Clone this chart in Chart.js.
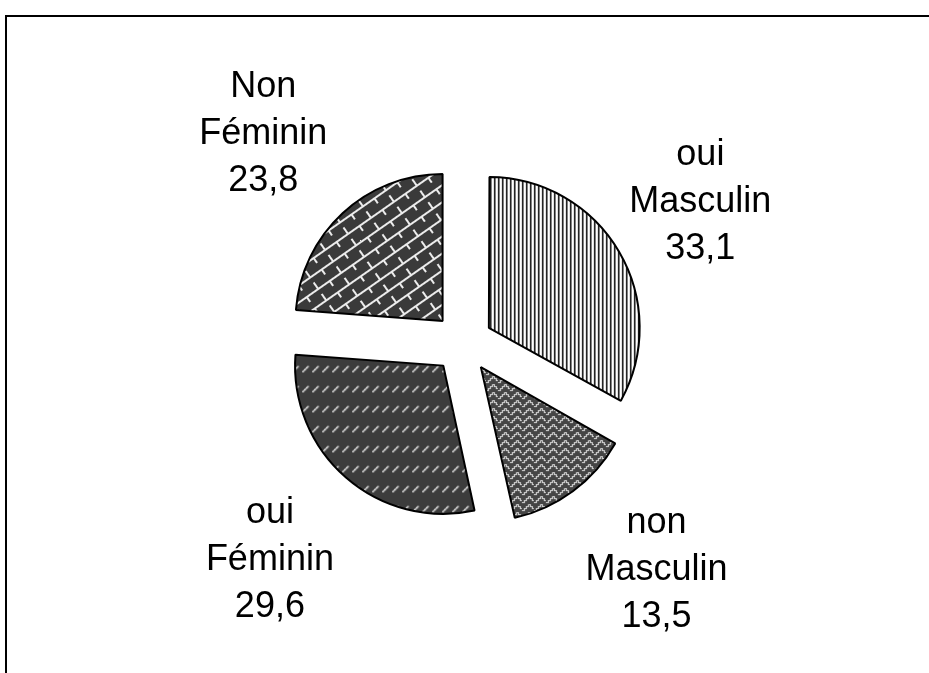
<!DOCTYPE html>
<html>
<head>
<meta charset="utf-8">
<script src="https://cdn.jsdelivr.net/npm/chart.js@4/dist/chart.umd.min.js"></script>
<style>
  html, body { margin: 0; padding: 0; background: #fff; }
  canvas { display: block; }
</style>
</head>
<body>
<canvas id="c" width="929" height="673"></canvas>
<script>
// ---- data ----
const reponses = ['oui', 'non', 'oui', 'Non'];
const sexes = ['Masculin', 'Masculin', 'Féminin', 'Féminin'];
const valeurs = [33.1, 13.5, 29.6, 23.8];

// ---- label nudges (style only, pixels) ----
const labelNudges = [[-11, 5], [22, -4], [-4, 0], [-4, 2]];

// ---- patterns ----
function makeTile(w, h, draw) {
  const c = document.createElement('canvas');
  c.width = w; c.height = h;
  draw(c.getContext('2d'));
  return c;
}
const pctx = document.createElement('canvas').getContext('2d');

const stripes = pctx.createPattern(makeTile(4, 4, g => {
  g.fillStyle = '#fff'; g.fillRect(0, 0, 4, 4);
  g.fillStyle = '#1a1a1a'; g.fillRect(0, 0, 1, 4);
  g.fillStyle = '#707070'; g.fillRect(1, 0, 1, 4);
}), 'repeat');

const fret = pctx.createPattern(makeTile(12, 8, g => {
  g.fillStyle = '#454545'; g.fillRect(0, 0, 12, 8);
  g.strokeStyle = '#d4d4d4'; g.lineWidth = 1.2;
  g.beginPath();
  g.moveTo(0, 6.5); g.lineTo(2.5, 6.5); g.lineTo(2.5, 4.5); g.lineTo(4.5, 4.5);
  g.lineTo(4.5, 2.5); g.lineTo(6.5, 2.5); g.lineTo(6.5, 0.5);
  g.moveTo(6.5, 0.5); g.lineTo(8.5, 0.5); g.lineTo(8.5, 2.5); g.lineTo(10.5, 2.5);
  g.lineTo(10.5, 4.5); g.lineTo(12, 4.5);
  g.stroke();
}), 'repeat');

const dashes = pctx.createPattern(makeTile(10, 20, g => {
  g.fillStyle = '#3c3c3c'; g.fillRect(0, 0, 10, 20);
  for (let i = 0; i < 6; i++) {
    g.fillStyle = i % 2 ? '#bdbdbd' : '#f4f4f4';
    g.fillRect(2 + i, 8 - i, 1.6, 1.6);
  }
}), 'repeat');

const bricks = pctx.createPattern(makeTile(28, 14, g => {
  g.fillStyle = '#3a3a3a'; g.fillRect(0, 0, 28, 14);
  g.fillStyle = '#ececec';
  g.fillRect(0, 0, 28, 2);
  g.fillRect(0, 0, 2, 7);
  g.fillRect(14, 7, 2, 7);
}), 'repeat');
bricks.setTransform(new DOMMatrix().rotateSelf(-35));

const fills = [stripes, fret, dashes, bricks];

// ---- plugins ----
const framePlugin = {
  id: 'frame',
  beforeDraw(chart) {
    const ctx = chart.ctx;
    ctx.save();
    ctx.fillStyle = '#fff';
    ctx.fillRect(0, 0, chart.width, chart.height);
    ctx.fillStyle = '#000';
    ctx.fillRect(5, 15, chart.width - 5, 2);
    ctx.fillRect(5, 15, 2, chart.height - 15);
    ctx.restore();
  }
};

const labelPlugin = {
  id: 'sliceLabels',
  afterDatasetsDraw(chart) {
    const ctx = chart.ctx;
    const meta = chart.getDatasetMeta(0);
    ctx.save();
    ctx.font = '36px "Liberation Sans", Arial, sans-serif';
    ctx.fillStyle = '#000';
    ctx.textAlign = 'center';
    ctx.textBaseline = 'middle';
    meta.data.forEach((arc, i) => {
      const mid = (arc.startAngle + arc.endAngle) / 2;
      const D = 288;
      const x = arc.x + Math.cos(mid) * D + labelNudges[i][0];
      const y = arc.y + Math.sin(mid) * D + labelNudges[i][1];
      const lines = [reponses[i], sexes[i], valeurs[i].toFixed(1).replace('.', ',')];
      lines.forEach((t, k) => ctx.fillText(t, x, y + (k - 1) * 47));
    });
    ctx.restore();
  }
};

new Chart(document.getElementById('c'), {
  type: 'pie',
  data: {
    labels: reponses.map((r, i) => r + ' ' + sexes[i]),
    datasets: [{
      data: valeurs,
      backgroundColor: fills,
      borderColor: '#000',
      borderWidth: 2,
      offset: 120
    }]
  },
  options: {
    responsive: false,
    devicePixelRatio: 1,
    animation: false,
    events: [],
    radius: 147,
    layout: { padding: { left: 0, right: 3, top: 13, bottom: 0 } },
    plugins: {
      legend: { display: false },
      tooltip: { enabled: false },
      title: { display: false }
    }
  },
  plugins: [framePlugin, labelPlugin]
});
</script>
</body>
</html>
